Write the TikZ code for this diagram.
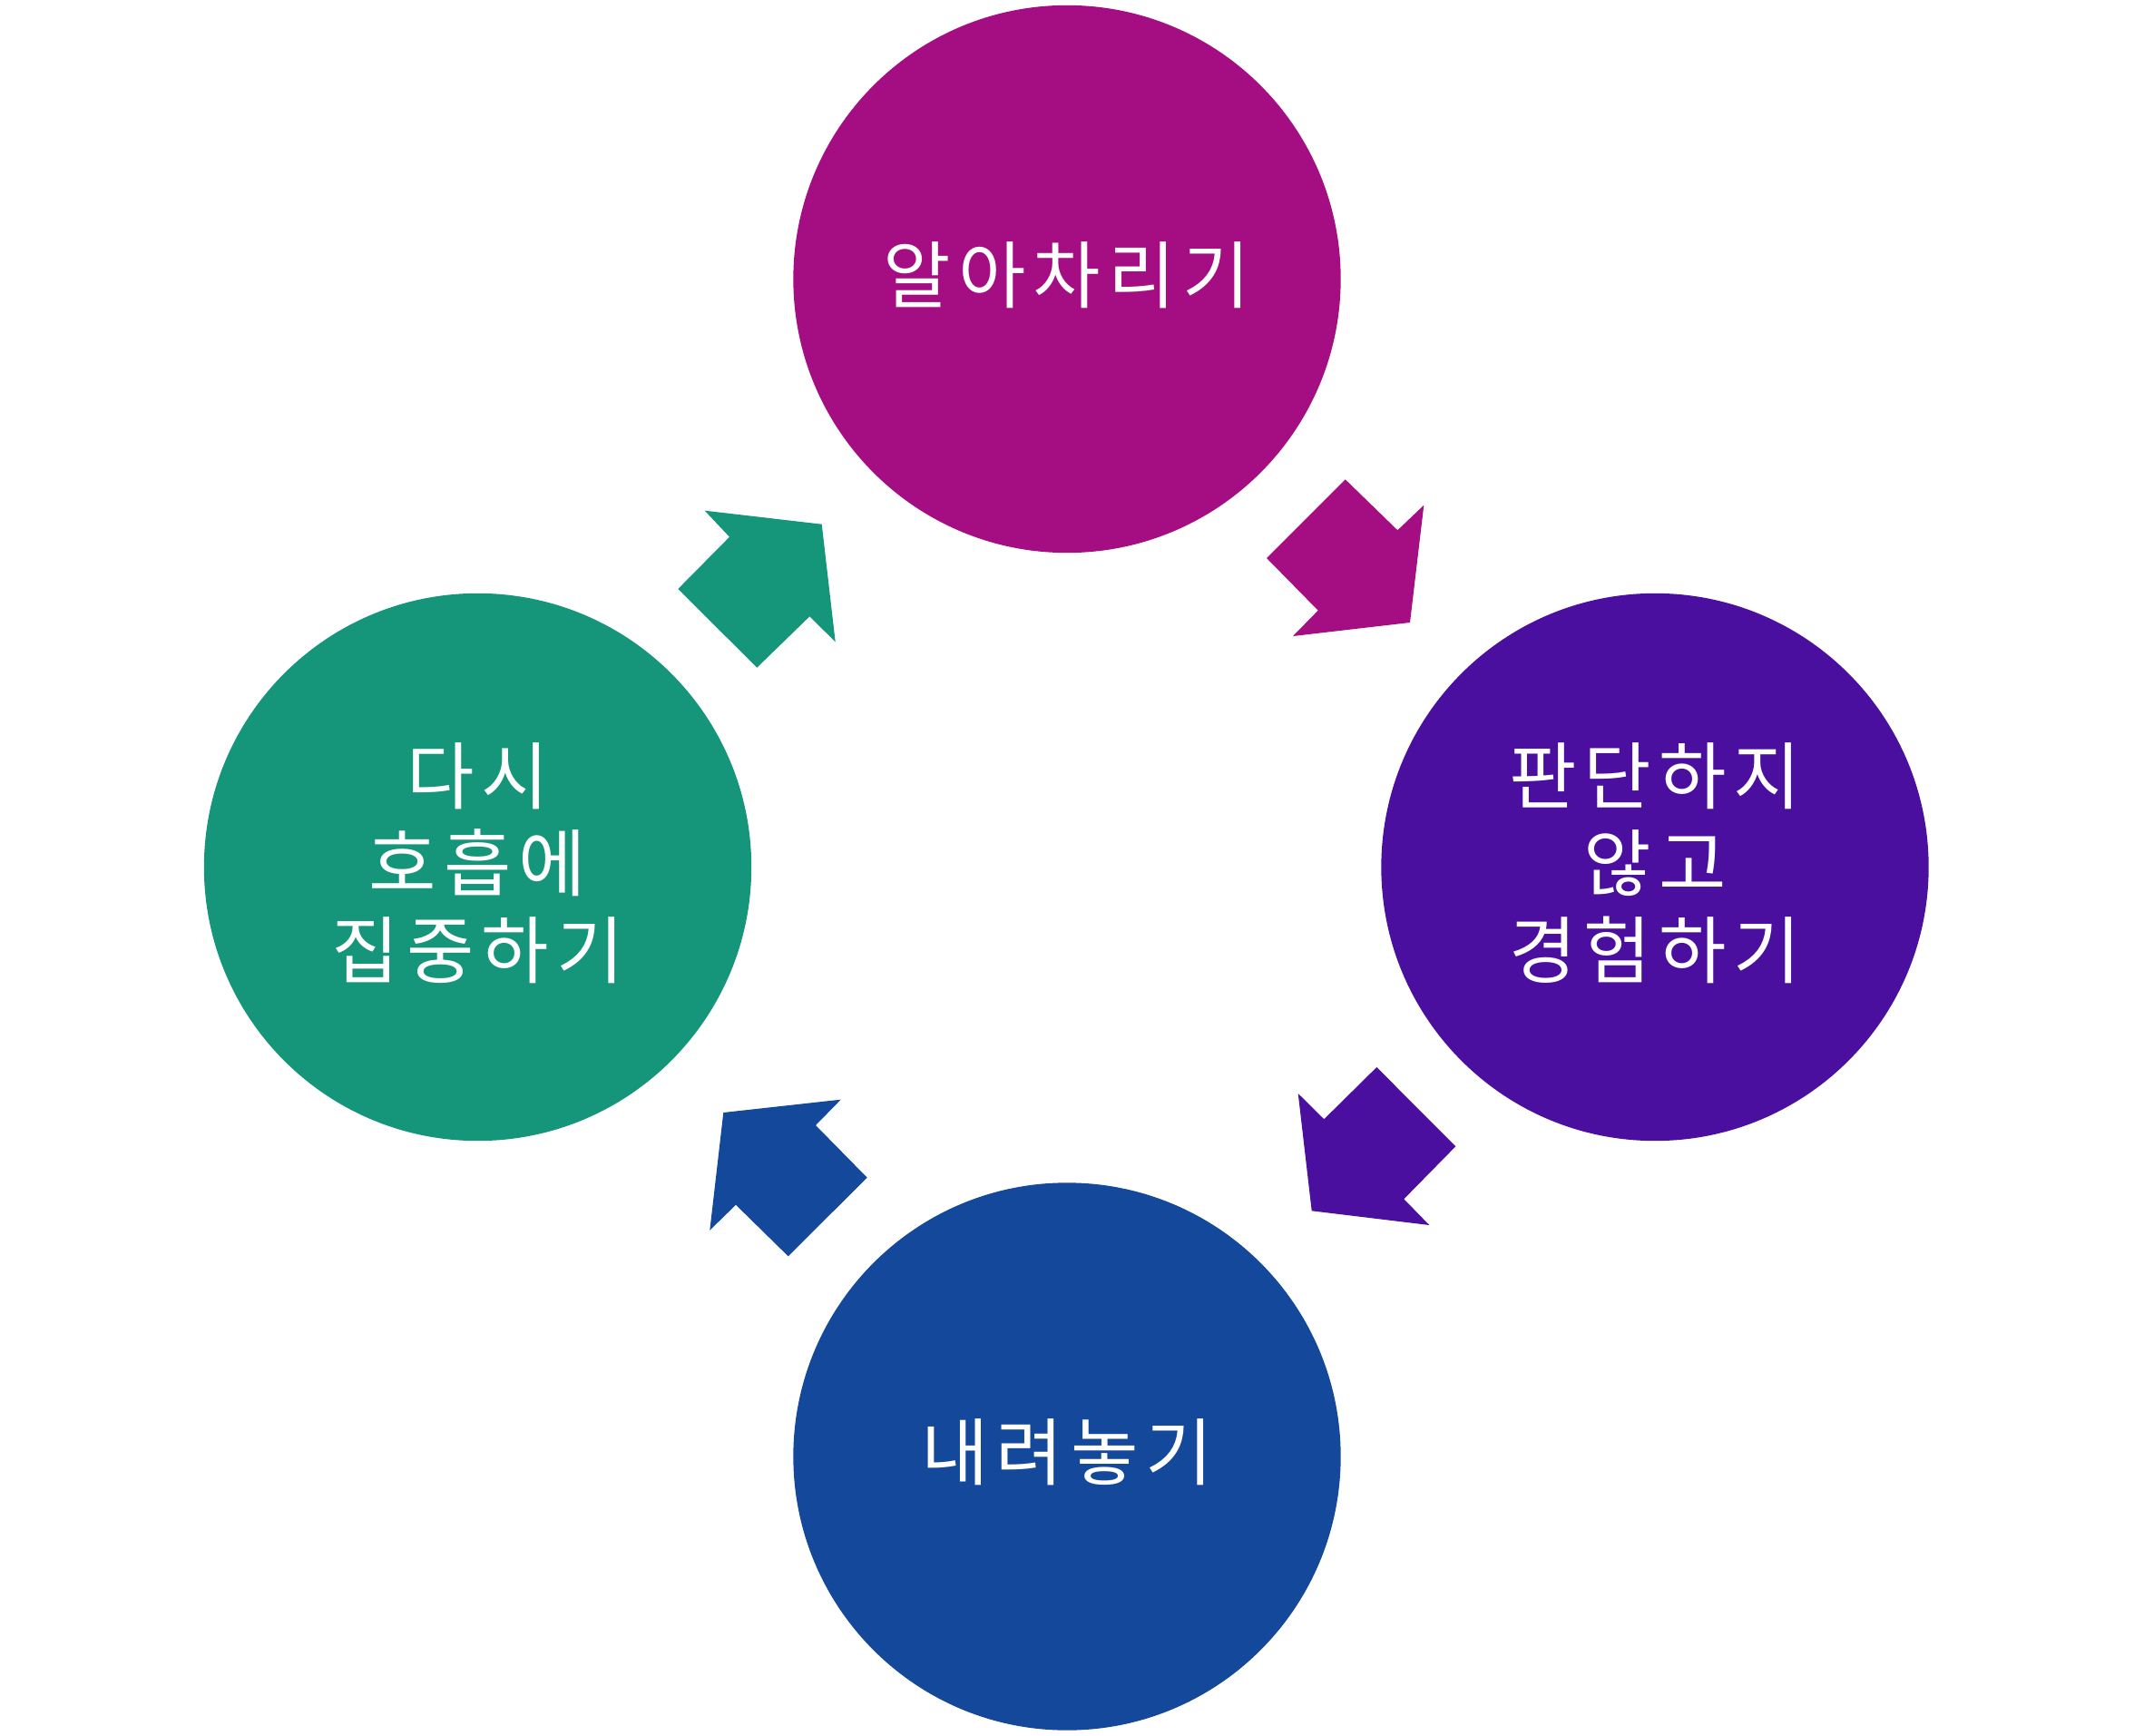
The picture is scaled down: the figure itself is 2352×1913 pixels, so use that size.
\documentclass[tikz,border=0pt]{standalone}
\usepackage{fontspec}
\newfontfamily\kr[LetterSpace=10]{Noto Sans CJK KR}
\definecolor{cMag}{HTML}{A50E82}
\definecolor{cPur}{HTML}{4B0F9F}
\definecolor{cBlu}{HTML}{14489A}
\definecolor{cTea}{HTML}{15967B}
\tikzset{
  bubble/.style={circle, minimum size=6.03cm, inner sep=0pt, draw=none, fill=#1},
  label text/.style={text=white, align=center, inner sep=0pt, yshift=0.045cm,
    font=\kr\fontsize{23}{27.3}\selectfont},
  blockarrow/.style={fill=#1, draw=none}
}
\begin{document}
\begin{tikzpicture}[x=0.01cm,y=-0.01cm]
\useasboundingbox (0,0) rectangle (2352,1913);
\node[bubble=cMag] (n1) at (1176,307.5) {};
\node[bubble=cPur] (n2) at (1824,955.5) {};
\node[bubble=cBlu] (n3) at (1176,1605) {};
\node[bubble=cTea] (n4) at (526.5,955.5) {};
\node[label text] (t1) at (n1) {알아차리기};
\node[label text] (t2) at (n2) {판단하지\\않고\\경험하기};
\node[label text] (t3) at (n3) {내려놓기};
\node[label text] (t4) at (n4) {다시\\호흡에\\집중하기};
% arrow n1 -> n2
\fill[blockarrow=cMag] (1482.7,528.3) -- (1540.3,584.3) -- (1569.3,556.7) -- (1554,686) -- (1425,701) -- (1452.7,672.7) -- (1396,615) -- cycle;
% arrow n2 -> n3
\fill[blockarrow=cPur] (1517.3,1176) -- (1604.3,1263.3) -- (1547.3,1321.3) -- (1575.3,1350) -- (1445.7,1334.3) -- (1430.7,1205) -- (1459.3,1233.3) -- cycle;
% arrow n3 -> n4
\fill[blockarrow=cBlu] (926.7,1211.7) -- (899,1240) -- (955.7,1297.7) -- (868.7,1384.3) -- (811,1327.7) -- (782.3,1355.7) -- (797.3,1226) -- cycle;
% arrow n4 -> n1
\fill[blockarrow=cTea] (776.7,562.7) -- (905.7,577.7) -- (920.7,707.3) -- (892.3,679.3) -- (834.3,735.7) -- (747.3,649) -- (804,591.7) -- cycle;
\end{tikzpicture}
\end{document}
